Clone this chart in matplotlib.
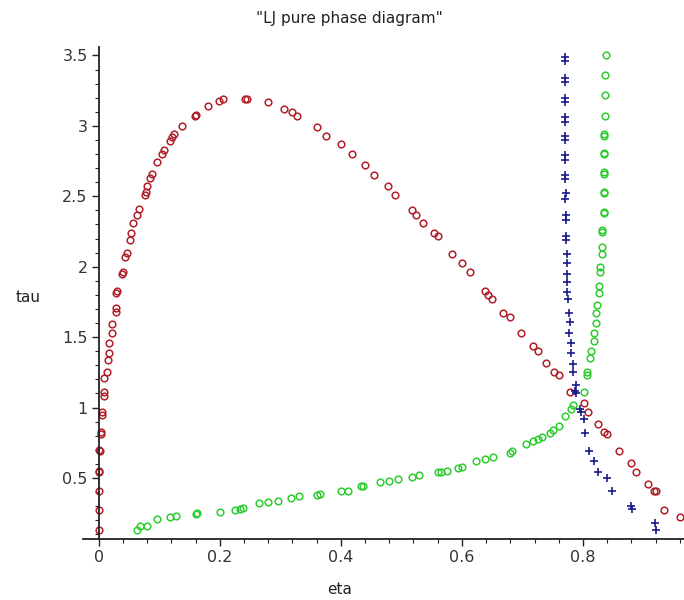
import matplotlib
matplotlib.use("Agg")
import matplotlib.pyplot as plt
from matplotlib.ticker import MultipleLocator, FuncFormatter

# ---- data (eta, tau) ----
red_eta = [0.000, 0.000, 0.000, 0.000, 0.001, 0.002, 0.001, 0.003, 0.004, 0.005, 0.006, 0.008, 0.009, 0.009,
           0.014, 0.015, 0.017, 0.017, 0.022, 0.022, 0.028, 0.028, 0.029, 0.031, 0.039, 0.040, 0.044, 0.047,
           0.051, 0.054, 0.057, 0.063, 0.067, 0.077, 0.078, 0.080, 0.085, 0.088, 0.096, 0.105, 0.108, 0.117,
           0.121, 0.125, 0.138, 0.159, 0.161, 0.180, 0.199, 0.206, 0.241, 0.245, 0.280, 0.306, 0.320, 0.327,
           0.361, 0.375, 0.401, 0.418, 0.440, 0.455, 0.478, 0.489, 0.518, 0.524, 0.536, 0.554, 0.561, 0.583,
           0.600, 0.613, 0.639, 0.643, 0.650, 0.668, 0.679, 0.697, 0.718, 0.726, 0.739, 0.752, 0.761, 0.779,
           0.801, 0.809, 0.825, 0.835, 0.840, 0.860, 0.879, 0.888, 0.907, 0.918, 0.920, 0.934, 0.960]
red_tau = [0.13, 0.27, 0.41, 0.545, 0.55, 0.69, 0.70, 0.81, 0.83, 0.95, 0.97, 1.08, 1.11, 1.21,
           1.25, 1.34, 1.39, 1.46, 1.53, 1.59, 1.68, 1.71, 1.81, 1.83, 1.95, 1.96, 2.07, 2.10,
           2.19, 2.24, 2.31, 2.37, 2.41, 2.51, 2.53, 2.57, 2.63, 2.66, 2.74, 2.80, 2.83, 2.89,
           2.92, 2.94, 3.00, 3.07, 3.08, 3.14, 3.18, 3.19, 3.19, 3.19, 3.17, 3.12, 3.10, 3.07,
           2.99, 2.93, 2.87, 2.80, 2.72, 2.65, 2.57, 2.51, 2.40, 2.37, 2.31, 2.24, 2.22, 2.09,
           2.03, 1.96, 1.83, 1.80, 1.77, 1.67, 1.64, 1.53, 1.44, 1.40, 1.32, 1.25, 1.23, 1.11,
           1.03, 0.97, 0.88, 0.83, 0.81, 0.69, 0.61, 0.545, 0.46, 0.41, 0.41, 0.27, 0.225]

blue_eta = [0.770, 0.770, 0.770, 0.770, 0.770, 0.770, 0.770, 0.770, 0.770, 0.770, 0.771, 0.771, 0.771, 0.771,
            0.772, 0.771, 0.772, 0.772, 0.772, 0.772, 0.773, 0.773, 0.773, 0.774, 0.774, 0.775, 0.777, 0.778,
            0.777, 0.780, 0.780, 0.783, 0.783, 0.788, 0.787, 0.788, 0.795, 0.797, 0.802, 0.803, 0.810, 0.819,
            0.825, 0.840, 0.848, 0.880, 0.881, 0.919, 0.921]
blue_tau = [3.49, 3.46, 3.34, 3.31, 3.20, 3.17, 3.06, 3.03, 2.93, 2.90, 2.79, 2.76, 2.65, 2.62,
            2.52, 2.48, 2.37, 2.33, 2.22, 2.19, 2.09, 2.03, 1.95, 1.89, 1.82, 1.77, 1.67, 1.61,
            1.53, 1.46, 1.39, 1.31, 1.25, 1.16, 1.12, 1.10, 0.99, 0.97, 0.92, 0.82, 0.69, 0.62,
            0.545, 0.50, 0.41, 0.30, 0.28, 0.18, 0.13]

green_eta = [0.063, 0.068, 0.079, 0.096, 0.118, 0.128, 0.160, 0.162, 0.200, 0.225, 0.233, 0.239, 0.264, 0.280,
             0.296, 0.318, 0.331, 0.360, 0.366, 0.401, 0.412, 0.434, 0.436, 0.464, 0.480, 0.494, 0.518, 0.529,
             0.561, 0.565, 0.575, 0.593, 0.600, 0.623, 0.639, 0.652, 0.680, 0.683, 0.706, 0.718, 0.726, 0.732,
             0.745, 0.751, 0.761, 0.771, 0.780, 0.784, 0.801, 0.806, 0.807, 0.812, 0.814, 0.819, 0.819, 0.821,
             0.822, 0.823, 0.826, 0.826, 0.828, 0.828, 0.831, 0.831, 0.832, 0.832, 0.834, 0.834, 0.834, 0.834,
             0.834, 0.834, 0.834, 0.834, 0.834, 0.834, 0.836, 0.836, 0.837, 0.838]
green_tau = [0.13, 0.16, 0.16, 0.21, 0.22, 0.23, 0.245, 0.25, 0.26, 0.27, 0.28, 0.285, 0.32, 0.33,
             0.34, 0.36, 0.37, 0.38, 0.39, 0.41, 0.41, 0.44, 0.44, 0.47, 0.48, 0.49, 0.51, 0.52,
             0.54, 0.54, 0.55, 0.57, 0.58, 0.62, 0.635, 0.65, 0.68, 0.69, 0.74, 0.76, 0.78, 0.79,
             0.82, 0.84, 0.87, 0.94, 0.99, 1.02, 1.11, 1.23, 1.25, 1.35, 1.40, 1.47, 1.53, 1.60,
             1.67, 1.73, 1.81, 1.86, 1.96, 2.00, 2.09, 2.14, 2.25, 2.26, 2.38, 2.39, 2.52, 2.53,
             2.66, 2.67, 2.80, 2.81, 2.93, 2.94, 3.07, 3.22, 3.36, 3.50]

title_text = '"LJ pure phase diagram"'
x_label = "eta"
y_label = "tau"

fig = plt.figure(figsize=(6.84, 6.0), dpi=100)
ax = fig.add_axes([83/684, 61/600, 601/684, 492/600])

ax.plot(red_eta, red_tau, linestyle="none", marker="o", markersize=4.8, markerfacecolor="none",
        markeredgecolor="#b0202a", markeredgewidth=1.1)
ax.plot(green_eta, green_tau, linestyle="none", marker="o", markersize=4.8, markerfacecolor="none",
        markeredgecolor="#2fcc2f", markeredgewidth=1.1)
ax.plot(blue_eta, blue_tau, linestyle="none", marker="+", markersize=5.5,
        markeredgecolor="#1a1a8c", markeredgewidth=1.2)

ax.set_xlim(-0.026, 0.967)
ax.set_ylim(0.067, 3.56)

ax.spines["top"].set_visible(False)
ax.spines["right"].set_visible(False)
ax.spines["left"].set_position(("data", 0))
for s in ("left", "bottom"):
    ax.spines[s].set_linewidth(1.3)
    ax.spines[s].set_color("#222222")

ax.xaxis.set_major_locator(MultipleLocator(0.2))
ax.xaxis.set_minor_locator(MultipleLocator(0.04))
ax.yaxis.set_major_locator(MultipleLocator(0.5))
ax.yaxis.set_minor_locator(MultipleLocator(0.1))

def fmt(v, pos):
    s = ("%.2f" % v).rstrip("0").rstrip(".")
    return "0" if s in ("-0", "") else s

ax.xaxis.set_major_formatter(FuncFormatter(fmt))
ax.yaxis.set_major_formatter(FuncFormatter(fmt))
ax.tick_params(which="major", direction="out", length=5, width=1.0, labelsize=11.5,
               labelcolor="#333333", color="#222222", pad=3)
ax.tick_params(which="minor", direction="out", length=3, width=0.8, color="#222222")
ax.set_xticks([0.0, 0.2, 0.4, 0.6, 0.8])
ax.set_yticks([0.5, 1.0, 1.5, 2.0, 2.5, 3.0, 3.5])

fig.text(349/684, 1 - 18/600, title_text, ha="center", va="center", fontsize=11, color="#222222")
fig.text(28/684, 1 - 298/600, y_label, ha="center", va="center", fontsize=11, color="#222222")
fig.text(340/684, 1 - 590/600, x_label, ha="center", va="center", fontsize=11, color="#222222")

fig.savefig("out.png", dpi=100)
